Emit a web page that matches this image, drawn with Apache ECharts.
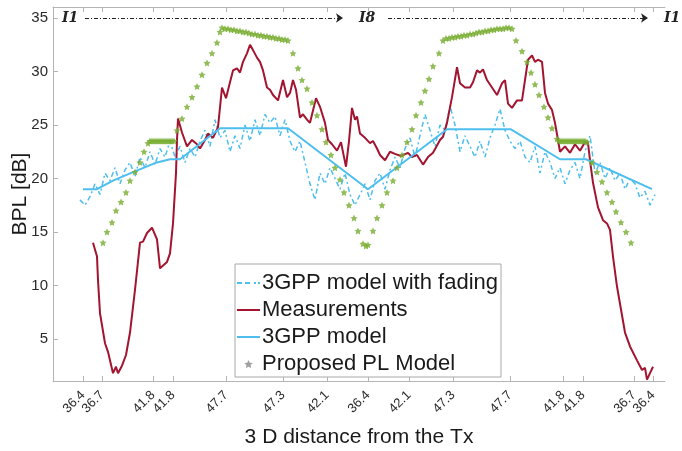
<!DOCTYPE html>
<html>
<head>
<meta charset="utf-8">
<script src="https://cdn.jsdelivr.net/npm/echarts@6/dist/echarts.min.js"></script>
<style>
  html, body { margin: 0; padding: 0; background: #fff; }
  #chart { width: 682px; height: 451px; }
</style>
</head>
<body>
<div id="chart"></div>
<script>
// x is the sample index along the route, tick labels give the 3D distance
const tickPos = [30, 49, 100, 120, 173, 230, 274, 315, 356, 400, 457, 510, 530, 581, 600]
const tickLabels = ['36.4', '36.7', '41.8', '41.8', '47.7', '47.3', '42.1', '36.4', '42.1', '47.3', '47.7', '41.8', '41.8', '36.7', '36.4']
const yTicks = [5, 10, 15, 20, 25, 30, 35]

const fading = [
  [27, 18.0], [32, 17.5], [37, 18.3], [42, 19.5], [47, 18.5], [52, 20.5], [57, 19.8], [62, 21.0], [67, 19.5], [72, 20.8],
  [77, 21.5], [82, 20.2], [87, 22.0], [92, 21.0], [97, 22.5], [102, 21.3], [107, 22.8], [112, 22.0], [117, 23.5], [122, 22.0],
  [127, 23.0], [132, 21.5], [137, 22.8], [142, 22.0], [147, 23.5], [152, 24.5], [157, 23.0], [162, 25.5], [167, 23.8], [172, 24.5],
  [177, 22.5], [182, 24.0], [187, 22.8], [192, 25.0], [197, 23.5], [202, 25.5], [207, 24.0], [212, 26.0], [217, 25.2], [222, 25.8],
  [227, 24.0], [232, 25.5], [237, 23.5], [242, 22.5], [247, 23.5], [252, 21.5], [257, 19.5], [262, 18.0], [267, 20.5], [272, 19.5],
  [277, 21.0], [282, 20.0], [287, 19.0], [292, 20.5], [297, 18.5], [302, 17.5], [307, 18.5], [312, 19.5], [317, 18.0], [322, 19.8],
  [327, 20.5], [332, 19.0], [337, 20.8], [342, 22.0], [347, 21.0], [352, 22.8], [357, 23.8], [362, 22.0], [367, 24.0], [372, 26.0],
  [377, 24.5], [382, 23.0], [387, 25.0], [392, 24.5], [397, 26.8], [402, 25.0], [407, 22.5], [412, 24.0], [417, 23.0], [422, 22.0],
  [427, 23.5], [432, 22.0], [437, 23.8], [442, 25.0], [447, 26.5], [452, 24.5], [457, 23.5], [462, 22.8], [467, 23.5], [472, 22.0],
  [477, 21.5], [482, 23.0], [487, 20.5], [492, 22.5], [497, 21.5], [502, 20.0], [507, 21.0], [512, 19.5], [517, 20.8], [522, 21.5],
  [527, 20.0], [532, 22.5], [537, 24.0], [542, 20.5], [547, 21.5], [552, 20.0], [557, 21.0], [562, 19.8], [567, 20.5], [572, 19.0],
  [577, 20.0], [582, 19.5], [587, 18.2], [592, 18.8], [597, 17.5], [602, 18.5]
]

const measured = [
  [40, 14.0], [44, 12.7], [45, 10.5], [47, 7.4], [52, 4.6], [55, 3.8], [60, 1.8], [63, 2.4], [65, 1.8], [69, 2.5],
  [73, 3.5], [77, 5.6], [80, 8.0], [82, 9.6], [87, 14.0], [90, 14.1], [94, 14.9], [99, 15.4], [104, 14.3], [107, 11.6],
  [114, 12.2], [117, 13.0], [120, 15.8], [123, 20.5], [124, 23.6], [125, 25.6], [129, 24.3], [134, 23.0], [139, 23.6], [144, 23.2],
  [147, 22.8], [152, 23.6], [155, 24.2], [160, 23.8], [165, 24.8], [169, 28.5], [173, 27.5], [177, 29.0], [180, 30.1], [184, 30.3],
  [187, 29.9], [190, 30.9], [194, 31.7], [197, 32.5], [200, 32.0], [204, 31.3], [207, 30.9], [210, 30.1], [214, 28.5], [217, 28.3],
  [220, 27.8], [225, 27.3], [230, 29.2], [234, 27.6], [237, 28.0], [240, 29.2], [243, 28.3], [247, 25.7], [250, 26.0], [254, 25.5],
  [257, 25.2], [263, 27.5], [267, 26.7], [272, 25.2], [275, 23.6], [279, 23.2], [284, 22.6], [288, 23.4], [291, 22.0], [293, 21.1],
  [296, 23.5], [299, 26.6], [302, 25.5], [304, 25.8], [307, 24.2], [312, 23.8], [317, 23.3], [320, 23.5], [324, 22.8], [327, 22.2],
  [332, 21.7], [337, 22.5], [342, 22.3], [348, 22.1], [355, 22.4], [359, 22.0], [364, 22.2], [370, 21.3], [375, 22.0], [380, 22.4],
  [387, 23.6], [390, 23.9], [394, 25.2], [399, 27.6], [404, 30.4], [407, 28.9], [412, 28.5], [417, 28.5], [420, 29.0], [424, 30.1],
  [427, 29.9], [430, 30.2], [434, 29.2], [439, 28.5], [444, 27.8], [449, 28.9], [452, 29.2], [455, 27.0], [459, 26.6], [464, 27.3],
  [469, 27.3], [475, 31.1], [479, 31.5], [482, 30.9], [485, 31.1], [489, 30.9], [492, 28.0], [495, 27.0], [499, 26.4], [502, 25.2],
  [505, 23.6], [507, 22.5], [512, 23.0], [517, 22.4], [522, 23.2], [527, 22.6], [532, 23.4], [535, 23.3], [537, 21.7], [540, 19.6],
  [545, 17.3], [550, 16.1], [554, 15.8], [557, 15.2], [560, 12.7], [564, 9.9], [572, 5.6], [577, 4.3], [584, 3.0], [589, 2.1],
  [592, 2.3], [594, 1.2], [597, 1.8], [600, 2.4]
]

const model3gpp = [
  [30, 19.0], [44, 19.0], [60, 19.8], [80, 20.6], [104, 21.5], [117, 21.8], [127, 21.8], [167, 24.7], [235, 24.7], [315, 19.0],
  [394, 24.6], [458, 24.6], [507, 21.8], [533, 21.8], [599, 19.0]
]

const proposed = [
  [50, 14.0], [54, 15.0], [59, 15.9], [63, 17.0], [68, 17.8], [73, 18.7], [77, 19.8], [82, 20.6], [87, 21.5], [91, 22.5],
  [95, 23.3], [97, 23.5], [99, 23.5], [101, 23.5], [103, 23.5], [105, 23.5], [107, 23.5], [109, 23.5], [111, 23.5], [113, 23.5],
  [115, 23.5], [117, 23.5], [119, 23.5], [121, 23.5], [124, 24.5], [129, 25.6], [134, 26.7], [139, 27.6], [144, 28.6], [149, 29.7],
  [154, 30.8], [159, 31.7], [164, 32.7], [167, 33.7], [169, 34.1], [172, 34.0], [175, 34.0], [178, 33.9], [181, 33.9], [184, 33.8],
  [187, 33.8], [190, 33.7], [193, 33.7], [196, 33.6], [199, 33.5], [202, 33.5], [205, 33.4], [208, 33.4], [211, 33.3], [214, 33.3],
  [217, 33.2], [220, 33.2], [223, 33.1], [226, 33.1], [229, 33.0], [232, 33.0], [235, 32.9], [240, 31.7], [245, 30.3], [249, 29.2],
  [254, 28.4], [259, 27.1], [264, 25.9], [269, 24.6], [273, 23.4], [278, 22.2], [282, 21.0], [287, 19.9], [291, 18.7], [296, 17.5],
  [301, 16.3], [305, 15.1], [310, 13.9], [313, 13.7], [315, 13.8], [320, 15.1], [324, 16.3], [329, 17.5], [334, 18.7], [340, 19.8],
  [344, 21.0], [349, 22.2], [354, 23.4], [359, 24.6], [363, 25.9], [368, 27.1], [372, 28.2], [376, 29.3], [380, 30.5], [386, 31.7],
  [390, 32.9], [393, 33.1], [396, 33.1], [399, 33.2], [402, 33.2], [405, 33.3], [408, 33.3], [411, 33.4], [414, 33.4], [417, 33.5],
  [420, 33.5], [423, 33.6], [426, 33.7], [429, 33.7], [432, 33.8], [435, 33.8], [438, 33.9], [441, 33.9], [444, 34.0], [447, 34.0],
  [450, 34.0], [453, 34.1], [456, 34.1], [459, 34.0], [463, 32.9], [469, 31.9], [474, 30.9], [478, 29.9], [482, 28.8], [486, 27.8],
  [491, 26.7], [495, 25.7], [499, 24.7], [504, 23.7], [506, 23.5], [508, 23.5], [510, 23.5], [512, 23.5], [514, 23.5], [516, 23.5],
  [518, 23.5], [520, 23.5], [522, 23.5], [524, 23.5], [526, 23.5], [528, 23.5], [530, 23.5], [532, 23.5], [534, 23.4], [539, 21.5],
  [544, 20.6], [549, 19.7], [554, 18.7], [559, 17.8], [563, 16.9], [568, 15.9], [573, 15.0], [578, 14.0]
]

const starPath = 'path://M0,-10L2.9,-4L9.5,-3.1L4.8,1.5L5.9,8.1L0,5L-5.9,8.1L-4.8,1.5L-9.5,-3.1L-2.9,-4Z'
const solidIcon = 'path://M0,0h23v2h-23z'
const dashIcon = 'path://M0,0h5v2h-5zM8,0h5v2h-5zM17,0h2v2h-2zM21,0h2v2h-2z'
const axisGray = '#b4b4b4'
const textGray = '#2a2a2a'
const font = 'Liberation Sans, Arial, sans-serif'

const chart = echarts.init(document.getElementById('chart'))

const option = {
  backgroundColor: '#fff',
  animation: false,
  grid: { left: 53, right: 17, top: 7, bottom: 70, containLabel: false, outerBoundsMode: 'none' },
  legend: {
    data: [
      { name: '3GPP model with fading', icon: dashIcon },
      { name: 'Measurements', icon: solidIcon },
      { name: '3GPP model', icon: solidIcon },
      { name: 'Proposed PL Model', icon: starPath, itemStyle: { color: '#8a8a8a' } }
    ],
    orient: 'vertical',
    left: 235,
    top: 264,
    padding: [8, 3, 2, 2],
    itemWidth: 23,
    itemHeight: 8,
    itemGap: 5,
    backgroundColor: '#fff',
    borderColor: '#a8a8a8',
    borderWidth: 1,
    textStyle: { fontFamily: font, fontSize: 22, color: '#1a1a1a', padding: [0, 0, 0, -3] }
  },
  xAxis: [{
    type: 'value',
    min: 0,
    max: 612,
    name: '3 D distance from the Tx',
    nameLocation: 'middle',
    nameGap: 46,
    nameMoveOverlap: false,
    nameTextStyle: { fontFamily: font, fontSize: 21, color: '#1a1a1a' },
    axisLine: { show: true, lineStyle: { color: axisGray } },
    axisTick: { show: true, inside: true, length: 5, customValues: tickPos, lineStyle: { color: axisGray } },
    axisLabel: {
      rotate: 45,
      interval: 0,
      hideOverlap: false,
      fontFamily: font,
      fontSize: 13,
      color: textGray,
      margin: 12,
      customValues: tickPos,
      formatter: v => tickLabels[tickPos.indexOf(v)]
    },
    splitLine: { show: false }
  }, {
    type: 'value',
    position: 'top',
    min: 0,
    max: 612,
    axisLine: { show: true, lineStyle: { color: axisGray } },
    axisTick: { show: true, inside: true, length: 5, customValues: tickPos, lineStyle: { color: axisGray } },
    axisLabel: { show: false },
    splitLine: { show: false }
  }],
  yAxis: {
    type: 'value',
    min: 1.07,
    max: 36.03,
    name: 'BPL [dB]',
    nameLocation: 'middle',
    nameGap: 22,
    nameMoveOverlap: false,
    nameTextStyle: { fontFamily: font, fontSize: 21, color: '#1a1a1a' },
    axisLine: { show: true, lineStyle: { color: axisGray } },
    axisTick: { show: true, inside: true, length: 5, customValues: yTicks, lineStyle: { color: axisGray } },
    axisLabel: { fontFamily: font, fontSize: 15, color: textGray, margin: 5, customValues: yTicks },
    splitLine: { show: false }
  },
  graphic: [
    { type: 'text', left: 62, top: 11, style: { text: 'I1', font: 'italic bold 14px DejaVu Serif', fill: '#222' } },
    { type: 'text', left: 359, top: 11, style: { text: 'I8', font: 'italic bold 14px DejaVu Serif', fill: '#222' } },
    { type: 'text', left: 664, top: 11, style: { text: 'I1', font: 'italic bold 14px DejaVu Serif', fill: '#222' } }
  ],
  series: [
    {
      name: '3GPP model with fading',
      type: 'line',
      data: fading,
      showSymbol: false,
      symbol: 'none',
      lineStyle: { color: '#4DBEEE', width: 1.5, type: [5, 3, 2, 3] },
      itemStyle: { color: '#4DBEEE' },
      z: 2
    },
    {
      name: 'Measurements',
      type: 'line',
      data: measured,
      showSymbol: false,
      symbol: 'none',
      lineStyle: { color: '#A2142F', width: 2 },
      itemStyle: { color: '#A2142F' },
      z: 3
    },
    {
      name: '3GPP model',
      type: 'line',
      data: model3gpp,
      showSymbol: false,
      symbol: 'none',
      lineStyle: { color: '#4DBEEE', width: 2 },
      itemStyle: { color: '#4DBEEE' },
      z: 4
    },
    {
      name: 'Proposed PL Model',
      type: 'scatter',
      data: proposed,
      symbol: starPath,
      symbolSize: 7,
      itemStyle: { color: '#77AC30' },
      z: 5
    },
    {
      name: 'route',
      type: 'line',
      data: [],
      silent: true,
      markLine: {
        silent: true,
        symbol: ['none', 'arrow'],
        symbolSize: 7,
        label: { show: false },
        lineStyle: { color: '#222', width: 1.2, type: [4, 2, 1, 2] },
        data: [
          [{ coord: [32, 35] }, { coord: [290, 35] }],
          [{ coord: [335, 35] }, { coord: [595, 35] }]
        ]
      }
    }
  ]
}

chart.setOption(option)
</script>
</body>
</html>
